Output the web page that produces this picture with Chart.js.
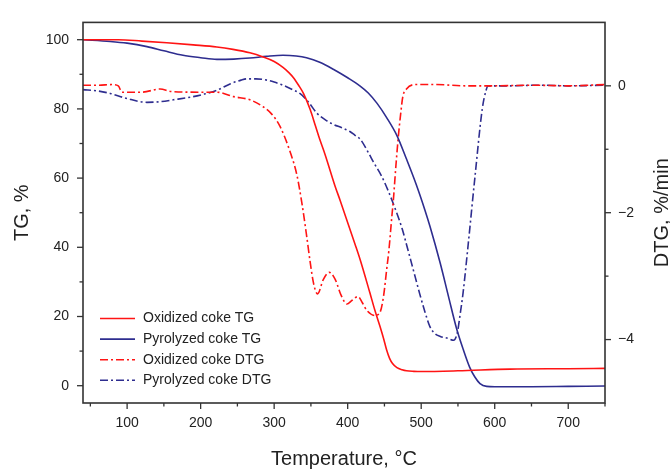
<!DOCTYPE html>
<html>
<head>
<meta charset="utf-8">
<title>TG / DTG curves of oxidized and pyrolyzed coke</title>
<script src="https://cdn.jsdelivr.net/npm/chart.js@4.4.1/dist/chart.umd.min.js"></script>
<style>
  html, body { margin: 0; padding: 0; background: #ffffff; overflow: hidden; }
  #wrap { width: 670px; height: 469px; }
</style>
</head>
<body>
<div id="wrap"><canvas id="chart" width="670" height="469"></canvas></div>
<script>
// ---- data: temperature (°C) and value pairs for each curve ----
const oxidizedTgTemp = [40, 60, 88, 120, 154, 190, 222, 244, 267, 285, 300, 312, 320, 326, 333, 340, 349, 356, 362, 369, 383, 390, 410, 417, 430, 437, 444, 449, 453, 457, 461, 467, 474, 480, 490, 500, 550, 621, 700, 750];
const oxidizedTg     = [100, 100, 100, 99.6, 99.1, 98.5, 97.9, 97.2, 96.2, 95.0, 93.7, 92.0, 90.5, 89.1, 86.9, 84.4, 79.8, 75.2, 71.2, 67.0, 57.6, 53.4, 40.9, 36.4, 27.0, 21.8, 17.1, 13.5, 10.3, 7.9, 6.4, 5.2, 4.6, 4.3, 4.15, 4.1, 4.3, 4.8, 4.9, 5.0];

const pyrolyzedTgTemp = [40, 77, 100, 127, 150, 176, 200, 222, 245, 267, 290, 312, 330, 344, 362, 381, 400, 417, 428, 440, 453, 467, 480, 493, 505, 512, 526, 537, 548, 557, 566, 573, 580, 589, 600, 650, 700, 750];
const pyrolyzedTg     = [100, 99.5, 99.0, 98.0, 96.8, 95.5, 94.8, 94.3, 94.4, 94.7, 95.2, 95.5, 95.3, 94.8, 93.5, 91.4, 89.0, 86.6, 84.6, 81.6, 77.5, 72.3, 65.5, 58.3, 50.8, 46.0, 35.3, 25.9, 16.6, 10.6, 5.3, 2.5, 0.6, -0.2, -0.3, -0.3, -0.2, -0.1];

const oxidizedDtgTemp = [40, 60, 80, 88, 93, 120, 145, 160, 200, 222, 245, 267, 285, 297, 308, 322, 331, 338, 344, 349, 353, 356, 359, 367, 375, 383, 391, 399, 406, 414, 420, 426, 437, 444, 449, 453, 456, 460, 462, 466, 469, 472, 475, 480, 492, 520, 560, 600, 650, 700, 750];
const oxidizedDtg     = [0.01, 0.01, 0.02, 0.0, -0.1, -0.1, -0.05, -0.09, -0.1, -0.1, -0.17, -0.22, -0.33, -0.45, -0.64, -1.05, -1.41, -1.87, -2.35, -2.78, -3.08, -3.22, -3.28, -3.05, -2.94, -3.05, -3.3, -3.44, -3.38, -3.32, -3.42, -3.54, -3.62, -3.57, -3.3, -2.9, -2.6, -2.07, -1.82, -1.2, -0.79, -0.45, -0.17, -0.05, 0.02, 0.02, 0.0, 0.0, 0.01, 0.0, 0.02];

const pyrolyzedDtgTemp = [40, 60, 77, 100, 127, 145, 163, 190, 205, 222, 240, 255, 263, 275, 290, 300, 312, 325, 335, 347, 358, 370, 381, 392, 403, 410, 417, 428, 435, 446, 456, 466, 474, 480, 486, 492, 498, 505, 512, 519, 526, 536, 544, 549, 553, 557, 564, 573, 583, 588, 591, 620, 660, 700, 750];
const pyrolyzedDtg     = [-0.06, -0.08, -0.12, -0.2, -0.26, -0.25, -0.22, -0.17, -0.13, -0.07, 0.03, 0.09, 0.11, 0.11, 0.09, 0.06, 0.01, -0.06, -0.12, -0.26, -0.43, -0.54, -0.61, -0.66, -0.72, -0.78, -0.84, -1.05, -1.2, -1.42, -1.68, -1.98, -2.25, -2.5, -2.76, -3.02, -3.28, -3.56, -3.8, -3.91, -3.95, -3.98, -4.01, -3.9, -3.6, -3.26, -2.49, -1.45, -0.37, -0.08, 0.0, 0.0, 0.01, 0.0, 0.01];

// ---- tick values ----
const tempTicks      = [100, 200, 300, 400, 500, 600, 700];
const tempMinorTicks = [50, 150, 250, 350, 450, 550, 650, 750];
const tgTicks        = [0, 20, 40, 60, 80, 100];
const tgMinorTicks   = [10, 30, 50, 70, 90];
const dtgTicks       = [-4, -2, 0];
const dtgMinorTicks  = [-3, -1];

const seriesLabels = ['Oxidized coke TG', 'Pyrolyzed coke TG', 'Oxidized coke DTG', 'Pyrolyzed coke DTG'];

// ---- styling ----
const RED = '#ff1414';
const BLUE = '#2e2d8f';
const AXIS = '#333333';
const TEXT = '#222222';
const FONT = "'Liberation Sans', Arial, Helvetica, sans-serif";
const DASH_DOT = [8, 3, 2, 3];

const pairs = (xs, ys) => xs.map((x, i) => ({ x: x, y: ys[i] }));
const fmtMinus = v => (v < 0 ? '\u2212' + Math.abs(v) : String(v));

function lineSet(label, xs, ys, color, axis, dash) {
  return {
    label: label,
    data: pairs(xs, ys),
    yAxisID: axis,
    borderColor: color,
    backgroundColor: color,
    borderWidth: 1.6,
    borderDash: dash,
    pointRadius: 0,
    fill: false,
    cubicInterpolationMode: 'monotone'
  };
}

// frame, outward tick marks, right-hand title and in-plot legend
const decorations = {
  id: 'decorations',
  afterDraw(chart) {
    const ctx = chart.ctx;
    const area = chart.chartArea;
    const sx = chart.scales.x, sy = chart.scales.y, sy2 = chart.scales.y2;
    ctx.save();
    ctx.strokeStyle = AXIS;
    ctx.lineWidth = 1.6;
    ctx.setLineDash([]);
    ctx.strokeRect(area.left, area.top, area.right - area.left, area.bottom - area.top);

    ctx.lineWidth = 1.3;
    const tick = (x1, y1, x2, y2) => { ctx.beginPath(); ctx.moveTo(x1, y1); ctx.lineTo(x2, y2); ctx.stroke(); };
    tempTicks.forEach(v => { const p = sx.getPixelForValue(v); tick(p, area.bottom, p, area.bottom + 6); });
    tempMinorTicks.forEach(v => { const p = sx.getPixelForValue(v); tick(p, area.bottom, p, area.bottom + 3.5); });
    tgTicks.forEach(v => { const p = sy.getPixelForValue(v); tick(area.left - 6, p, area.left, p); });
    tgMinorTicks.forEach(v => { const p = sy.getPixelForValue(v); tick(area.left - 3.5, p, area.left, p); });
    dtgTicks.forEach(v => { const p = sy2.getPixelForValue(v); tick(area.right, p, area.right + 6, p); });
    dtgMinorTicks.forEach(v => { const p = sy2.getPixelForValue(v); tick(area.right, p, area.right + 3.5, p); });

    // right axis title, reading bottom to top
    ctx.fillStyle = TEXT;
    ctx.font = '20px ' + FONT;
    ctx.textAlign = 'center';
    ctx.textBaseline = 'middle';
    ctx.save();
    ctx.translate(662, (area.top + area.bottom) / 2);
    ctx.rotate(-Math.PI / 2);
    ctx.fillText('DTG, %/min', 0, 0);
    ctx.restore();

    // legend
    ctx.font = '14px ' + FONT;
    ctx.textAlign = 'left';
    ctx.textBaseline = 'middle';
    const x0 = area.left + 17, x1 = area.left + 52, tx = area.left + 60;
    chart.data.datasets.forEach((ds, i) => {
      const y = 318.5 + i * 20.6;
      ctx.strokeStyle = ds.borderColor;
      ctx.lineWidth = 1.6;
      ctx.setLineDash(ds.borderDash || []);
      tick(x0, y, x1, y);
      ctx.setLineDash([]);
      ctx.fillStyle = TEXT;
      ctx.fillText(ds.label, tx, y);
    });
    ctx.restore();
  }
};

new Chart(document.getElementById('chart'), {
  type: 'line',
  data: {
    datasets: [
      lineSet(seriesLabels[0], oxidizedTgTemp, oxidizedTg, RED, 'y', []),
      lineSet(seriesLabels[1], pyrolyzedTgTemp, pyrolyzedTg, BLUE, 'y', []),
      lineSet(seriesLabels[2], oxidizedDtgTemp, oxidizedDtg, RED, 'y2', DASH_DOT),
      lineSet(seriesLabels[3], pyrolyzedDtgTemp, pyrolyzedDtg, BLUE, 'y2', DASH_DOT)
    ]
  },
  options: {
    responsive: false,
    animation: false,
    events: [],
    layout: { padding: { top: 14, left: 0, right: 0, bottom: 0 } },
    plugins: { legend: { display: false }, tooltip: { enabled: false } },
    scales: {
      x: {
        type: 'linear',
        position: 'bottom',
        min: 40, max: 750,
        afterBuildTicks: s => { s.ticks = tempTicks.map(v => ({ value: v })); },
        afterFit: s => { s.height = 66; },
        grid: { display: false, drawTicks: false, tickLength: 0 },
        border: { display: false },
        ticks: { padding: 12, color: TEXT, font: { family: FONT, size: 14 }, maxRotation: 0, autoSkip: false },
        title: { display: true, text: 'Temperature, \u00B0C', color: TEXT, font: { family: FONT, size: 20, lineHeight: 1 }, padding: { top: 0, bottom: 0 } }
      },
      y: {
        type: 'linear',
        position: 'left',
        min: -5, max: 105,
        afterBuildTicks: s => { s.ticks = tgTicks.map(v => ({ value: v })); },
        afterFit: s => { s.width = 83; },
        grid: { display: false, drawTicks: false, tickLength: 0 },
        border: { display: false },
        ticks: { padding: 14, color: TEXT, font: { family: FONT, size: 14 }, autoSkip: false },
        title: { display: true, text: 'TG, %', color: TEXT, font: { family: FONT, size: 20, lineHeight: 1 }, padding: { top: 12.5, bottom: 0 } }
      },
      y2: {
        type: 'linear',
        position: 'right',
        min: -5, max: 1,
        afterBuildTicks: s => { s.ticks = dtgTicks.map(v => ({ value: v })); },
        afterFit: s => { s.width = 65; },
        grid: { display: false, drawTicks: false, tickLength: 0 },
        border: { display: false },
        ticks: { padding: 13, color: TEXT, font: { family: FONT, size: 14 }, autoSkip: false, callback: v => fmtMinus(v) }
      }
    }
  },
  plugins: [decorations]
});
</script>
</body>
</html>
